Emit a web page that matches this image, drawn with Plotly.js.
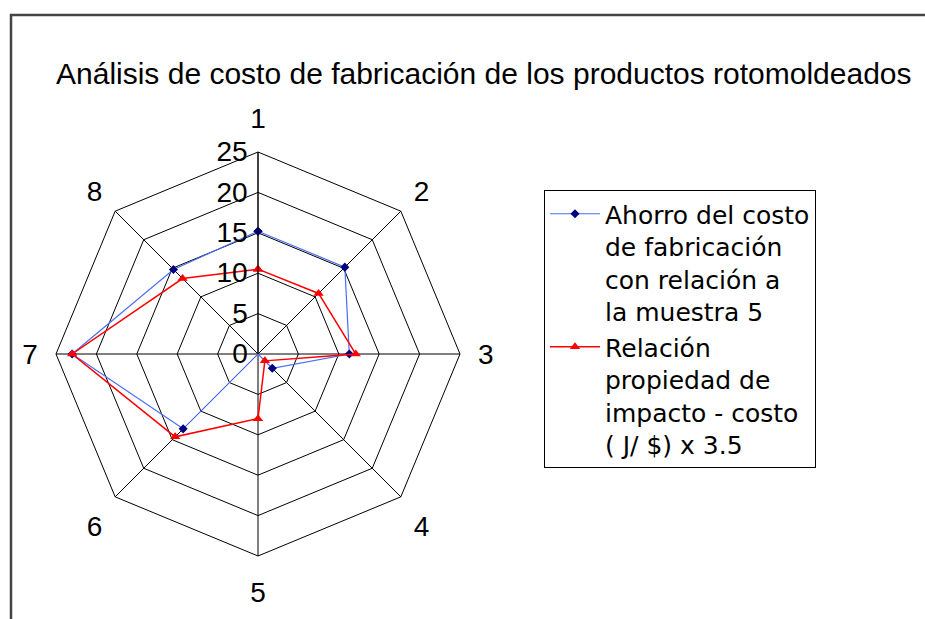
<!DOCTYPE html>
<html>
<head>
<meta charset="utf-8">
<script src="https://cdn.plot.ly/plotly-3.0.1.min.js"></script>
<style>
  body { margin: 0; background: #fff; }
  #chart { width: 925px; height: 619px; }
</style>
</head>
<body>
<div id="chart"></div>
<script>
const categories = ['1', '2', '3', '4', '5', '6', '7', '8'];
const ahorro = [15.2, 15.2, 11.3, 2.5, 0, 13.1, 23, 14.8];
const relacion = [10.5, 10.6, 12.1, 1.2, 8, 14.5, 23, 13.2];
const radialTicks = [0, 5, 10, 15, 20, 25];

// close the polygons
const theta = categories.concat([categories[0]]);

const traceAhorro = {
    type: 'scatterpolar',
    r: ahorro.concat([ahorro[0]]),
    theta: theta,
    mode: 'lines+markers',
    name: 'Ahorro del costo<br>de fabricación<br>con relación a<br>la muestra 5',
    line: { color: '#4a6ef5', width: 1.2 },
    marker: { symbol: 'diamond', size: 7, color: '#000080' },
    cliponaxis: false
};

const traceRelacion = {
    type: 'scatterpolar',
    r: relacion.concat([relacion[0]]),
    theta: theta,
    mode: 'lines+markers',
    name: 'Relación<br>propiedad de<br>impacto - costo<br>( J/ $) x 3.5',
    line: { color: '#ff0000', width: 1.5 },
    marker: { symbol: 'triangle-up', size: 9, color: '#ff0000' },
    cliponaxis: false
};

const layout = {
    width: 925,
    height: 619,
    margin: { l: 0, r: 0, t: 0, b: 0 },
    paper_bgcolor: '#ffffff',
    font: { family: 'Liberation Sans, Arial, sans-serif', color: '#000' },
    title: {
        text: 'Análisis de costo de fabricación de los productos rotomoldeados',
        font: { size: 30, color: '#000' },
        x: 56 / 925,
        xanchor: 'left',
        y: 1 - 73 / 619,
        yanchor: 'middle'
    },
    showlegend: true,
    legend: {
        x: 544 / 925,
        y: 1 - 190 / 619,
        xanchor: 'left',
        yanchor: 'top',
        valign: 'top',
        itemwidth: 50,
        bordercolor: '#000',
        borderwidth: 1,
        bgcolor: '#fff',
        font: { family: 'DejaVu Sans, sans-serif', size: 25, color: '#000' },
        tracegroupgap: 0
    },
    polar: {
        domain: { x: [56 / 925, 460 / 925], y: [1 - 556 / 619, 1 - 152 / 619] },
        gridshape: 'linear',
        bgcolor: 'rgba(0,0,0,0)',
        angularaxis: {
            type: 'category',
            categoryarray: categories,
            rotation: 90,
            direction: 'clockwise',
            showline: true,
            linecolor: '#000',
            linewidth: 1,
            gridcolor: '#000',
            gridwidth: 1,
            ticks: 'outside',
            ticklen: 12,
            tickcolor: 'rgba(0,0,0,0)',
            tickfont: { size: 28, color: '#000' }
        },
        radialaxis: {
            range: [0, 25],
            tickvals: radialTicks,
            angle: 90,
            side: 'counterclockwise',
            showline: true,
            linecolor: '#000',
            linewidth: 1,
            gridcolor: '#000',
            gridwidth: 1,
            ticks: '',
            tickangle: 90,
            tickfont: { size: 28, color: '#000' }
        }
    },
    shapes: [{
        type: 'rect',
        xref: 'paper',
        yref: 'paper',
        x0: 11 / 925,
        x1: 1.1,
        y0: -0.1,
        y1: 1 - 15 / 619,
        line: { color: '#444', width: 2.5 }
    }]
};

Plotly.newPlot('chart', [traceAhorro, traceRelacion], layout, { displayModeBar: false });
</script>
</body>
</html>
